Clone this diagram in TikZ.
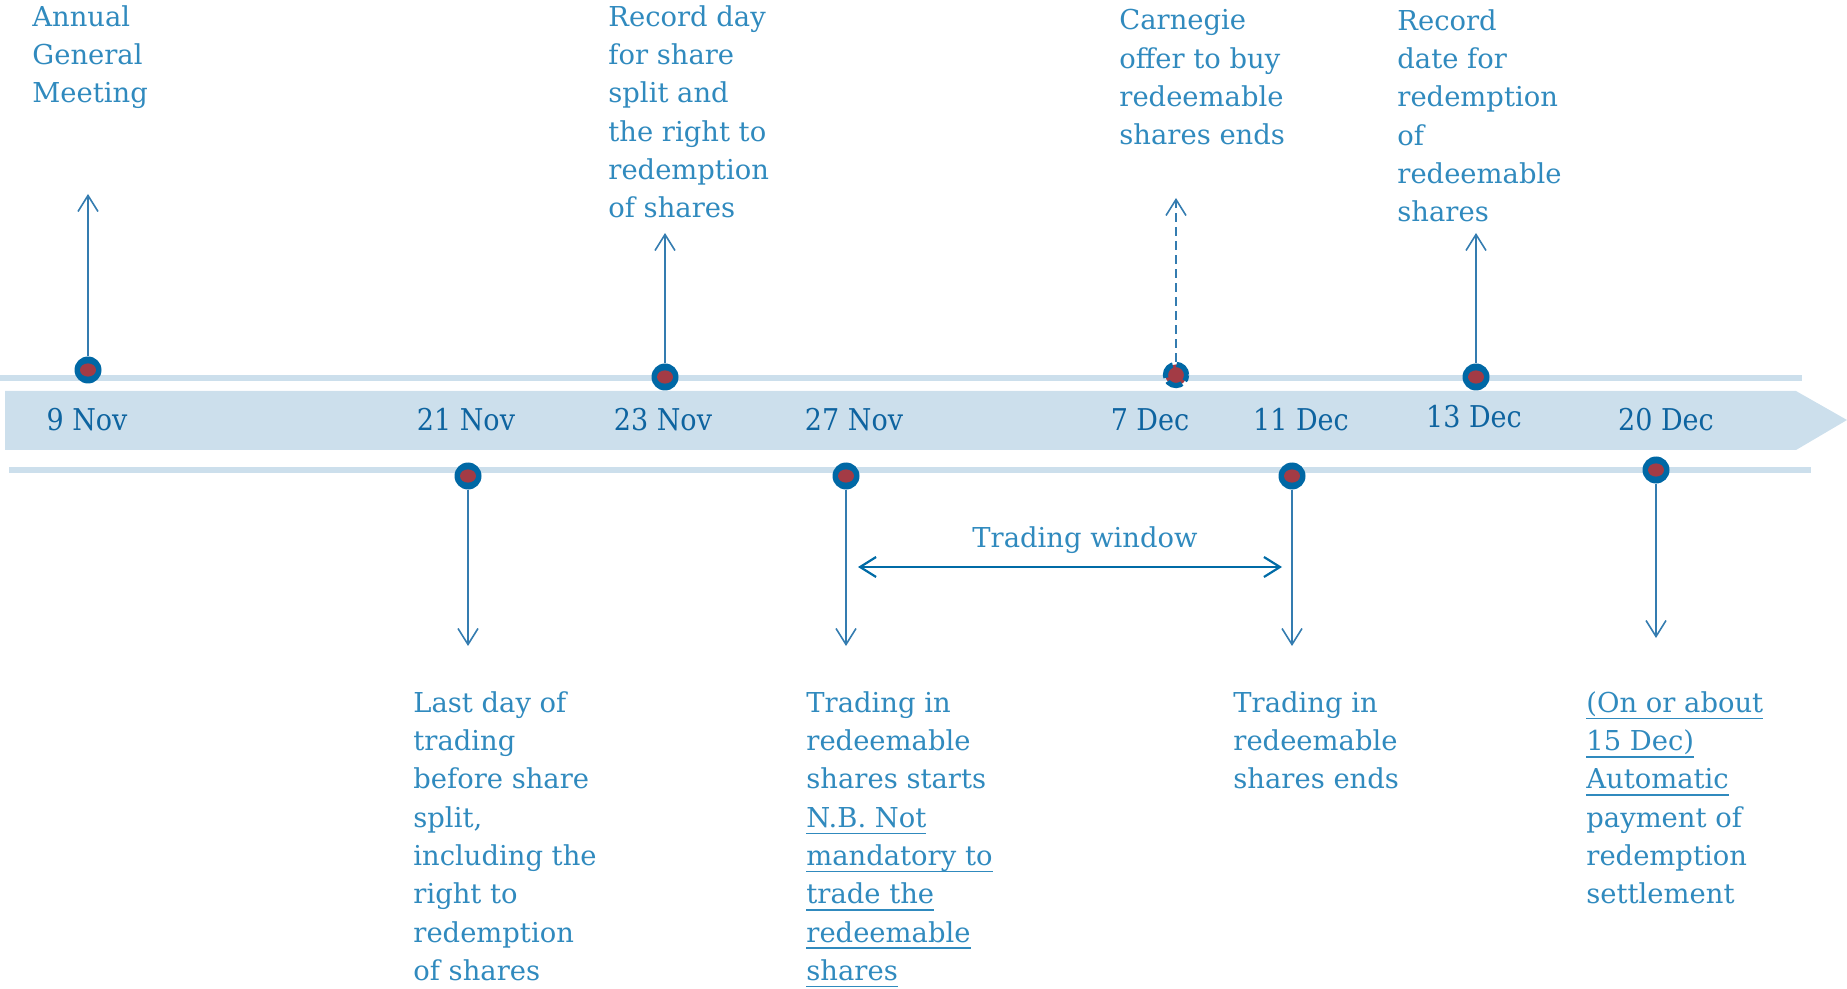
\documentclass[tikz,border=0pt]{standalone}
\usepackage{fontspec}
\setmainfont{DejaVu Serif}
\newfontfamily\datefont[FakeStretch=0.9]{DejaVu Serif}
\usetikzlibrary{arrows.meta}
\definecolor{bandblue}{RGB}{204,223,236}
\definecolor{dotblue}{RGB}{0,104,165}
\definecolor{dotred}{RGB}{163,59,69}
\definecolor{lineblue}{RGB}{52,124,176}
\definecolor{winblue}{RGB}{0,107,166}
\definecolor{textblue}{RGB}{48,138,190}
\definecolor{dateblue}{RGB}{14,100,160}
% underline at a fixed depth
\newcommand{\undl}[1]{\setbox0\hbox{#1}\rlap{\vrule width\wd0 height -2.7pt depth 3.5pt}\box0}

\begin{document}
\begin{tikzpicture}[x=0.5pt,y=-0.5pt,
    dot/.style={circle,fill=dotblue,minimum size=13.5pt,inner sep=0pt,
      path picture={\fill[dotred](path picture bounding box.center) ellipse (4pt and 3.3pt);}},
    datelbl/.style={text=dateblue,font=\datefont\fontsize{15}{18}\selectfont},
    lbl/.style={anchor=north west,align=left,inner sep=0pt,text=textblue,
      font=\fontsize{13.7}{19.15}\selectfont},
    uparr/.style={lineblue,line width=0.8pt,-{Straight Barb[length=8pt,width=10pt]}},
    winarr/.style={winblue,line width=1.1pt,{Straight Barb[length=8pt,width=10pt]}-{Straight Barb[length=8pt,width=10pt]}}]
                      \useasboundingbox (0,0) rectangle (1847,989);
                      % band and guide lines
                      \fill[bandblue](5,391)--(1796,391)--(1847,420)--(1796,450)--(5,450)--cycle;
                      \fill[bandblue](0,375)rectangle(1802,381);
                      \fill[bandblue](9,467)rectangle(1811,473);
                      % dates
                      \node[datelbl](n9)at(87,420){9 Nov};
                      \node[datelbl](n21)at(466,420){21 Nov};
                      \node[datelbl](n23)at(663,420){23 Nov};
                      \node[datelbl](n27)at(854,420){27 Nov};
                      \node[datelbl](n7)at(1150,420){7 Dec};
                      \node[datelbl](n11)at(1301,420){11 Dec};
                      \node[datelbl](n13)at(1474,417){13 Dec};
                      \node[datelbl](n20)at(1666,420){20 Dec};
                      % events above
                      \node[dot](d9)at(88,370){};
                      \node[dot](d23)at(665,377){};
                      \node[dot](d13)at(1476,377){};
                      \draw[dotblue,line width=2.6pt,dash pattern=on 8pt off 2pt,fill=dotred](1176,375)circle(5.3pt);
                      \coordinate(d7)at(1176,362);
                      \coordinate(t9)at(88,194);
                      \coordinate(t23)at(665,233);
                      \coordinate(t7)at(1176,198);
                      \coordinate(t13)at(1476,233);
                      \draw[uparr](d9)--(t9);
                      \draw[uparr](d23)--(t23);
                      \draw[uparr,dash pattern=on 4.5pt off 2.5pt](d7)--(t7);
                      \draw[uparr](d13)--(t13);
                      % events below
                      \node[dot](d21)at(468,476){};
                      \node[dot](d27)at(846,476){};
                      \node[dot](d11)at(1292,476){};
                      \node[dot](d20)at(1656,470){};
                      \coordinate(b21)at(468,646);
                      \coordinate(b27)at(846,646);
                      \coordinate(b11)at(1292,646);
                      \coordinate(b20)at(1656,638);
                      \draw[uparr](d21)--(b21);
                      \draw[uparr](d27)--(b27);
                      \draw[uparr](d11)--(b11);
                      \draw[uparr](d20)--(b20);
                      % trading window
                      \coordinate(w1)at(858,567);
                      \coordinate(w2)at(1282,567);
                      \draw[winarr](w1)--(w2);
                      \node[text=textblue,font=\fontsize{13.7}{19.15}\selectfont](win)at(1085,540){Trading window};
                      % texts
                      \node[lbl](agm)at(32,5){Annual\\General\\Meeting};
                      \node[lbl](rec)at(608,5){Record day\\for share\\split and\\the right to\\redemption\\of shares};
                      \node[lbl](offer)at(1119,9){Carnegie\\offer to buy\\redeemable\\shares ends};
                      \node[lbl](recd)at(1397,9){Record\\date for\\redemption\\of\\redeemable\\shares};
                      \node[lbl](last)at(413,691){Last day of\\trading\\before share\\split,\\including the\\right to\\redemption\\of shares};
                      \node[lbl](start)at(806,691){Trading in\\redeemable\\shares starts\\\undl{N.B. Not}\\\undl{mandatory to}\\\undl{trade the}\\\undl{redeemable}\\\undl{shares}};
                      \node[lbl](ends)at(1233,691){Trading in\\redeemable\\shares ends};
                      \node[lbl](pay)at(1586,691){\undl{(On or about}\\\undl{15 Dec)}\\\undl{Automatic}\\payment of\\redemption\\settlement};
                  \end{tikzpicture}
\end{document}
